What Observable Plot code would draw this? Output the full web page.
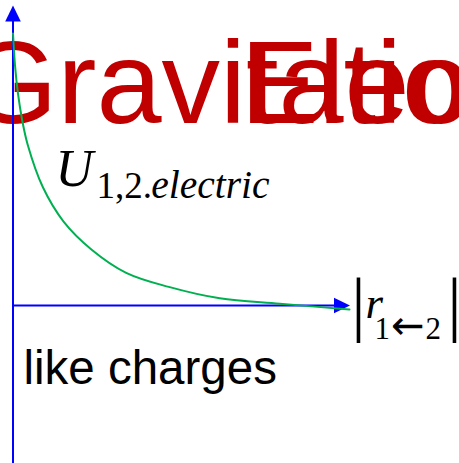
<!DOCTYPE html>
<html>
<head>
<meta charset="utf-8">
<script src="https://cdn.jsdelivr.net/npm/d3@7"></script>
<script src="https://cdn.jsdelivr.net/npm/@observablehq/plot@0.6"></script>
<style>
  html, body { margin: 0; padding: 0; background: #fff; }
  #chart svg { display: block; }
</style>
</head>
<body>
<div id="chart"></div>
<script>
// ---- data ----
const curveR = [0, 0.058, 0.148, 0.274, 0.436, 0.884, 1.507, 2.326, 3.359, 4.623, 6.136, 7.917, 9.985];
const curveU = [9.07, 8.02, 7.06, 6.17, 5.36, 3.95, 2.79, 1.87, 1.09, 0.62, 0.24, 0.06, -0.13];

const axisX = [0, 10];      // horizontal axis: start, arrow tip
const axisY = [-6, 10];     // vertical axis: start, arrow tip

const titleWords = ["Gravitation", "Electro"];
const titleX = [-1.38, 6.75];
const titleY = [6.07, 6.07];

const uMain = "U";
const uSub1 = "1,2.";
const uSub2 = "electric";
const rMain = "r";
const rSub = "1\u21902";
const bars = ["|", "|"];
const caption = "like charges";

// ---- build ----
const curve = curveR.map((r, i) => ({r, u: curveU[i]}));
const titles = titleWords.map((t, i) => ({t, x: titleX[i], y: titleY[i]}));

const arrowHead = {
  draw(ctx) {
    ctx.moveTo(0, 0);
    ctx.lineTo(-7.8, 16);
    ctx.lineTo(7.8, 16);
    ctx.closePath();
  }
};

const serif = "'Liberation Serif', 'Times New Roman', serif";
const sans = "'Liberation Sans', Arial, sans-serif";

const chart = Plot.plot({
  width: 459,
  height: 463,
  margin: 0,
  style: {background: "#fff"},
  x: {domain: [0, 10], range: [12.5, 349.5], axis: null},
  y: {domain: [0, 10], range: [305, 5], axis: null},
  marks: [
    Plot.text(titles, {x: "x", y: "y", text: "t", textAnchor: "start", lineAnchor: "bottom",
      fontSize: 117, fontFamily: sans, fill: "#C00000"}),
    Plot.text([uMain], {x: [1.26], y: [4.0], text: d => d, textAnchor: "start", lineAnchor: "bottom",
      fontSize: 52, fontFamily: serif, fontStyle: "italic", fill: "#000"}),
    Plot.text([uSub1], {x: [2.48], y: [3.6], text: d => d, textAnchor: "start", lineAnchor: "bottom",
      fontSize: 37, fontFamily: serif, fill: "#000"}),
    Plot.text([uSub2], {x: [4.1], y: [3.6], text: d => d, textAnchor: "start", lineAnchor: "bottom",
      fontSize: 39.5, fontFamily: serif, fontStyle: "italic", fill: "#000"}),
    Plot.text(bars, {x: [10.25, 13.1], y: [-0.75, -0.75], text: d => d, textAnchor: "middle", lineAnchor: "bottom",
      fontSize: 72, fontFamily: serif, fill: "#000"}),
    Plot.text([rMain], {x: [10.46], y: [-0.43], text: d => d, textAnchor: "start", lineAnchor: "bottom",
      fontSize: 45, fontFamily: serif, fontStyle: "italic", fill: "#000"}),
    Plot.text([rSub], {x: [10.73], y: [-1.1], text: d => d, textAnchor: "start", lineAnchor: "bottom",
      fontSize: 31, fontFamily: serif, fill: "#000"}),
    Plot.text([caption], {x: [0.31], y: [-2.6], text: d => d, textAnchor: "start", lineAnchor: "bottom",
      fontSize: 47.5, fontFamily: sans, fill: "#000"}),
    Plot.ruleX([0], {y1: axisY[0], y2: axisY[1] - 0.4, stroke: "#0000FF", strokeWidth: 2}),
    Plot.ruleY([0], {x1: axisX[0], x2: axisX[1] - 0.35, stroke: "#0000FF", strokeWidth: 2}),
    Plot.dot([{x: 0, y: axisY[1], a: 0}, {x: axisX[1], y: 0, a: 90}],
      {x: "x", y: "y", rotate: "a", symbol: arrowHead, fill: "#0000FF", stroke: "none", r: 5}),
    Plot.line(curve, {x: "r", y: "u", curve: "catmull-rom", stroke: "#00B050", strokeWidth: 2})
  ]
});

// render the arrow of the subscript with a wider arrow glyph
d3.select(chart).selectAll("text").filter(function () { return this.textContent === rSub; })
  .each(function () {
    const t = d3.select(this);
    t.text(null);
    t.append("tspan").text(rSub[0]);
    t.append("tspan").attr("font-family", "'DejaVu Sans', sans-serif").attr("font-size", 40).attr("dx", 1).text(rSub[1]);
    t.append("tspan").attr("dx", 1).text(rSub[2]);
  });

document.getElementById("chart").appendChild(chart);
</script>
</body>
</html>
